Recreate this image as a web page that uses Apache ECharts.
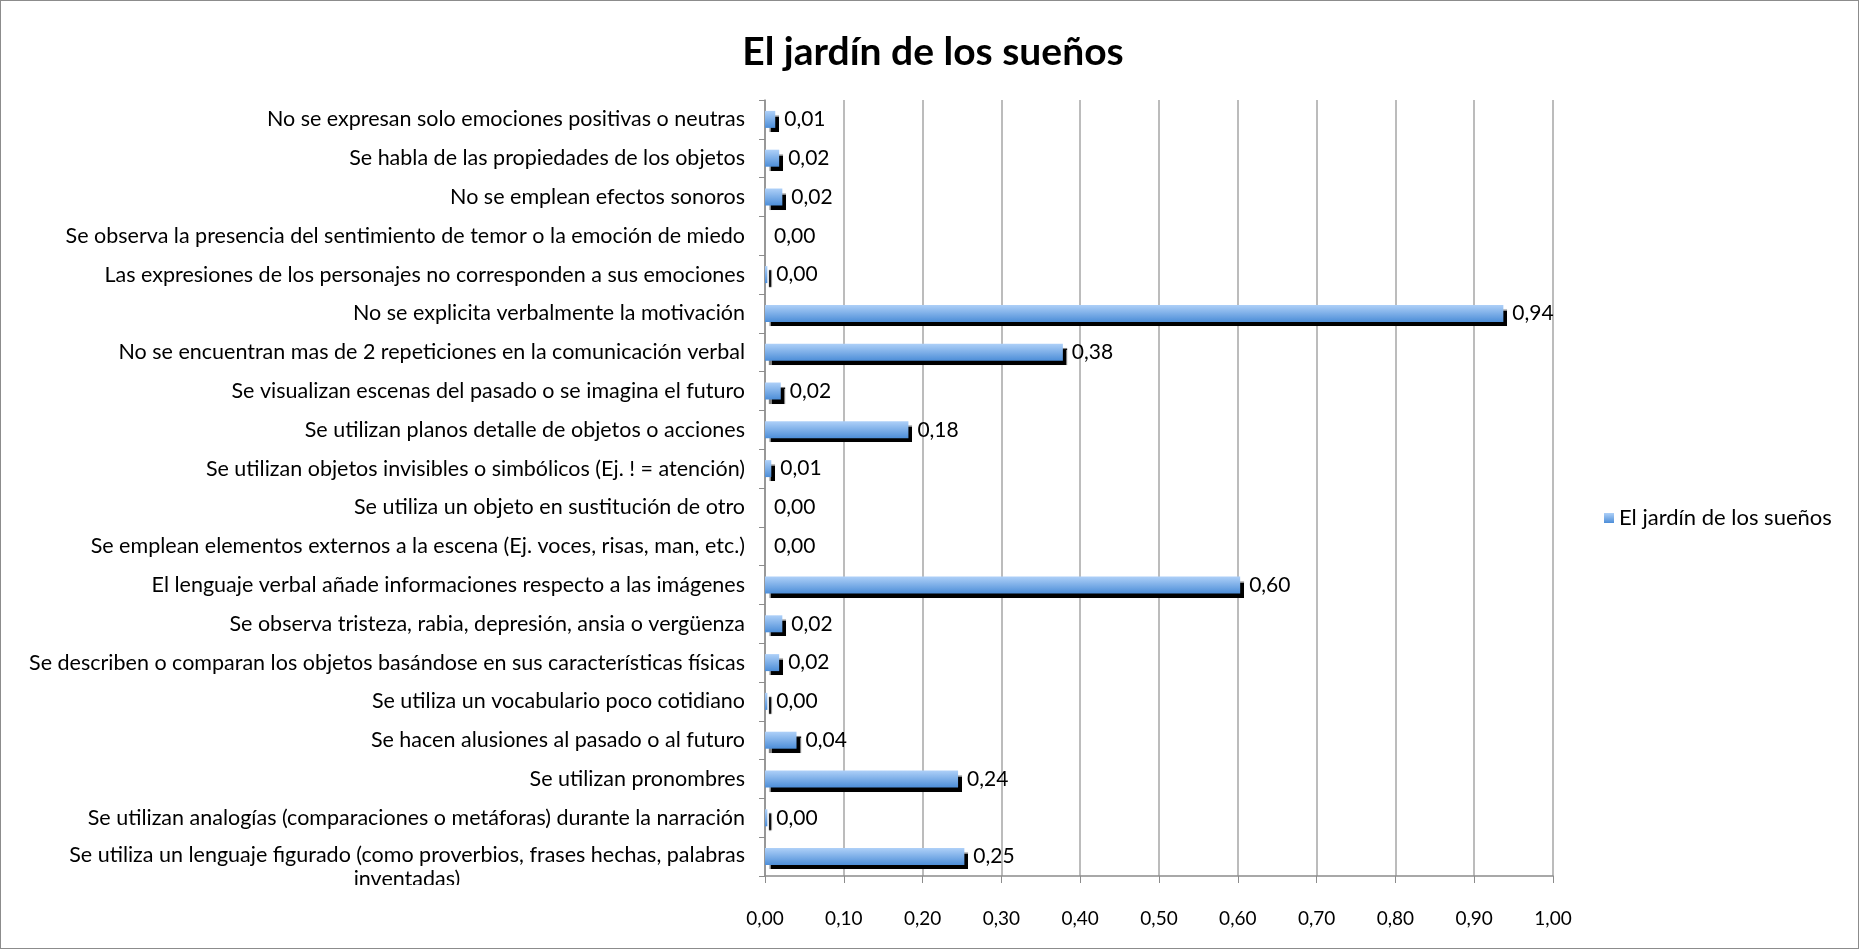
<!DOCTYPE html>
<html><head><meta charset="utf-8">
<script src="https://cdn.jsdelivr.net/npm/echarts@6/dist/echarts.min.js"></script>
<style>
html,body{margin:0;padding:0;background:#fff;}
#c{width:1857px;height:947px;border:1px solid #8c8c8c;}
</style></head>
<body><div id="c"></div>
<script>
const title = 'El jardín de los sueños';
const seriesName = 'El jardín de los sueños';
const categories = [
  'No se expresan solo emociones positivas o neutras',
  'Se habla de las propiedades de los objetos',
  'No se emplean efectos sonoros',
  'Se observa la presencia del sentimiento de temor o la emoción de miedo',
  'Las expresiones de los personajes no corresponden a sus emociones',
  'No se explicita verbalmente la motivación',
  'No se encuentran mas de 2 repeticiones en la comunicación verbal',
  'Se visualizan escenas del pasado o se imagina el futuro',
  'Se utilizan planos detalle de objetos o acciones',
  'Se utilizan objetos invisibles o simbólicos (Ej. ! = atención)',
  'Se utiliza un objeto en sustitución de otro',
  'Se emplean elementos externos a la escena (Ej. voces, risas, man, etc.)',
  'El lenguaje verbal añade informaciones respecto a las imágenes',
  'Se observa tristeza, rabia, depresión, ansia o vergüenza',
  'Se describen o comparan los objetos basándose en sus características físicas',
  'Se utiliza un vocabulario poco cotidiano',
  'Se hacen alusiones al pasado o al futuro',
  'Se utilizan pronombres',
  'Se utilizan analogías (comparaciones o metáforas) durante la narración',
  'Se utiliza un lenguaje figurado (como proverbios, frases hechas, palabras inventadas)'
];
const values = [0.013, 0.018, 0.022, 0, 0.003, 0.937, 0.378, 0.02, 0.182, 0.008,
                0, 0, 0.603, 0.022, 0.018, 0.003, 0.04, 0.245, 0.003, 0.253];
const xTicks = {min: 0, max: 1, interval: 0.1};

const fmt = v => Number(v).toFixed(2).replace('.', ',');
const FONT = 'Lato, "Open Sans", sans-serif';
const LBL = 21.5;
const grad = new echarts.graphic.LinearGradient(0, 0, 0, 1, [
  {offset: 0, color: '#aed0f8'},
  {offset: 1, color: '#4d8ed8'}
]);

// measure text width for centering the wrapped line of the long label
const mctx = document.createElement('canvas').getContext('2d');
mctx.font = LBL + 'px ' + FONT;
const splitLast = s => s.match(/^(.*) (\S+)$/);
const lastFirst = splitLast(categories[categories.length - 1])[1];

function catLabel(v, i) {
  if (i !== categories.length - 1) return v;
  const m = splitLast(v);
  return '{s| }\n{a|' + m[1] + '}\n{b|' + m[2] + '}';
}

const chart = echarts.init(document.getElementById('c'));
chart.setOption({
  animation: false,
  title: {
    text: title, left: 927, top: 27, textAlign: 'center',
    textStyle: {fontFamily: FONT, fontWeight: 'bold', fontSize: 39, color: '#000'}
  },
  legend: {
    data: [seriesName], left: 1598, top: 501, orient: 'vertical',
    icon: 'rect', itemWidth: 10, itemHeight: 10, itemGap: 6,
    textStyle: {fontFamily: FONT, fontSize: 22, color: '#000'}
  },
  grid: {left: 764, right: 305, top: 99, bottom: 72, containLabel: false},
  xAxis: {
    type: 'value', min: xTicks.min, max: xTicks.max, interval: xTicks.interval,
    axisLine: {show: true, lineStyle: {color: '#8c8c8c', width: 1.5}},
    axisTick: {show: true, length: 7, lineStyle: {color: '#8c8c8c'}},
    splitLine: {show: true, lineStyle: {color: '#a6a6a6', width: 1.5}},
    axisLabel: {formatter: fmt, margin: 33, fontFamily: FONT, fontSize: 19, color: '#000'}
  },
  yAxis: {
    type: 'category', data: categories, inverse: true,
    axisLine: {show: true, lineStyle: {color: '#8c8c8c', width: 1.5}},
    axisTick: {show: true, length: 6, lineStyle: {color: '#8c8c8c'}},
    axisLabel: {
      interval: 0, margin: 20, fontFamily: FONT, fontSize: LBL, color: '#000',
      lineHeight: 24,
      formatter: catLabel,
      rich: {
        s: {fontSize: 4, lineHeight: 20},
        a: {fontFamily: FONT, fontSize: LBL, color: '#000', lineHeight: 24},
        b: {fontFamily: FONT, fontSize: LBL, color: '#000', lineHeight: 24,
            width: Math.ceil(mctx.measureText(lastFirst).width), align: 'center'}
      }
    }
  },
  graphic: [{
    type: 'rect', z: 100, silent: true,
    shape: {x: 40, y: 884, width: 714, height: 22},
    style: {fill: '#fff'}
  }],
  series: [{
    name: seriesName, type: 'bar', data: values, barWidth: 17,
    itemStyle: {
      color: grad,
      shadowColor: 'rgba(0,0,0,1)', shadowBlur: 1, shadowOffsetX: 4, shadowOffsetY: 4
    },
    label: {
      show: true, position: 'right', distance: 9, formatter: p => fmt(p.value),
      fontFamily: FONT, fontSize: 21, color: '#000'
    }
  }]
});
</script></body></html>
